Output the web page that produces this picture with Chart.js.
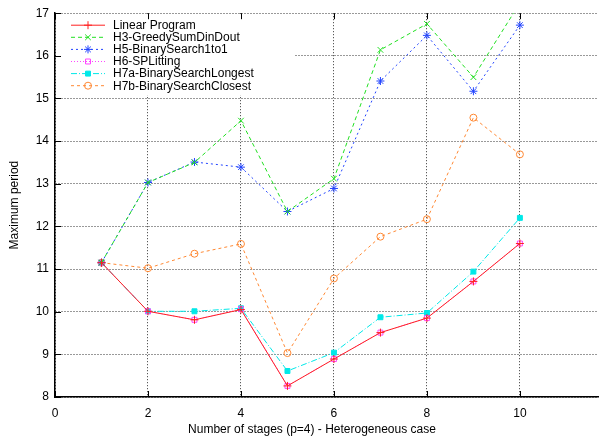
<!DOCTYPE html>
<html>
<head>
<meta charset="utf-8">
<script src="https://cdn.jsdelivr.net/npm/chart.js@4.4.1/dist/chart.umd.min.js"></script>
<style>
  body { margin: 0; background: #fff; }
  #wrap { width: 603px; height: 436px; }
</style>
</head>
<body>
<div id="wrap"><canvas id="chartPeriodo" width="603" height="436"></canvas></div>
<script>
const FONT = "'Liberation Sans', Arial, Helvetica, sans-serif";

// numero de etapas
const stages = [1, 2, 3, 4, 5, 6, 7, 8, 9, 10];
const xTicks = [0, 2, 4, 6, 8, 10];
const yTicks = [8, 9, 10, 11, 12, 13, 14, 15, 16, 17];

const linearProgram = [11.15, 10.01, 9.81, 10.05, 8.26, 8.89, 9.51, 9.85, 10.71, 11.60];
const h3Greedy      = [11.15, 13.03, 13.50, 14.48, 12.35, 13.12, 16.14, 16.75, 15.50, 17.24];
const h5Binary      = [11.15, 13.03, 13.51, 13.39, 12.35, 12.89, 15.41, 16.48, 15.17, 16.72];
const h6Splitting   = [11.15, 10.01, 9.81, 10.06, 8.26, 8.89, 9.51, 9.85, 10.71, 11.60];
const h7aLongest    = [11.15, 10.01, 10.01, 10.08, 8.61, 9.04, 9.87, 9.97, 10.94, 12.20];
const h7bClosest    = [11.15, 11.02, 11.36, 11.59, 9.03, 10.78, 11.76, 12.17, 14.55, 13.69];

const puntos = (vals) => stages.map((s, i) => ({ x: s, y: vals[i] }));

const serie = (label, vals, color, dash, style, radius, fill) => ({
    label : label,
    data : puntos(vals),
    borderColor : color,
    backgroundColor : color,
    borderWidth : 1,
    borderDash : dash,
    pointStyle : style,
    pointRadius : radius,
    pointHoverRadius : radius,
    pointBorderWidth : 1,
    pointBackgroundColor : fill ? color : 'rgba(0,0,0,0)',
    pointBorderColor : color,
    tension : 0
});

const datasets = [
    serie('Linear Program', linearProgram, '#ff2020', [], 'cross', 4, false),
    serie('H3-GreedySumDinDout', h3Greedy, '#22e022', [4, 3], 'crossRot', 4, false),
    serie('H5-BinarySearch1to1', h5Binary, '#2244ff', [2, 3], 'star', 4, false),
    serie('H6-SPLitting', h6Splitting, '#ff44ff', [1, 2], 'rect', 3.5, false),
    serie('H7a-BinarySearchLongest', h7aLongest, '#00e8e8', [6, 2, 1, 2], 'rect', 3.5, true),
    serie('H7b-BinarySearchClosest', h7bClosest, '#ff8833', [3, 3], 'circle', 3.5, false)
];

// leyenda dentro del area, titulos y marcas cortas de los ejes
const extras = {
    id : 'extras',
    beforeDatasetsDraw(chart) {
        const ctx = chart.ctx;
        const a = chart.chartArea;
        ctx.save();
        ctx.fillStyle = '#fff';
        ctx.fillRect(a.left + 1, a.top + 1, 238, 81);
        ctx.restore();
    },
    afterDatasetsDraw(chart) {
        const ctx = chart.ctx;
        const a = chart.chartArea;
        const xs = chart.scales.x;
        const ys = chart.scales.y;
        ctx.save();

        // marcas de los ejes
        ctx.strokeStyle = '#000';
        ctx.lineWidth = 1;
        ctx.setLineDash([]);
        ctx.beginPath();
        xTicks.forEach(v => {
            const px = Math.round(xs.getPixelForValue(v)) + 0.5;
            ctx.moveTo(px, a.bottom); ctx.lineTo(px, a.bottom - 6);
            ctx.moveTo(px, a.top); ctx.lineTo(px, a.top + 6);
        });
        yTicks.forEach(v => {
            const py = Math.round(ys.getPixelForValue(v)) + 0.5;
            ctx.moveTo(a.left, py); ctx.lineTo(a.left + 6, py);
        });
        ctx.stroke();

        // leyenda
        ctx.font = '12px ' + FONT;
        ctx.textBaseline = 'middle';
        ctx.textAlign = 'left';
        chart.data.datasets.forEach((d, i) => {
            const y = a.top + 12 + i * 12.1;
            const x0 = a.left + 16, x1 = a.left + 50;
            ctx.strokeStyle = d.borderColor;
            ctx.lineWidth = 1;
            ctx.setLineDash(d.borderDash);
            ctx.beginPath();
            ctx.moveTo(x0, y); ctx.lineTo(x1, y);
            ctx.stroke();
            ctx.setLineDash([]);
            ctx.fillStyle = d.pointBackgroundColor;
            ctx.strokeStyle = d.pointBorderColor;
            Chart.helpers.drawPoint(ctx, {
                pointStyle : d.pointStyle,
                radius : d.pointRadius,
                borderWidth : 1,
                rotation : 0
            }, (x0 + x1) / 2, y);
            ctx.fillStyle = '#000';
            ctx.fillText(d.label, a.left + 58, y + 0.5);
        });

        // titulos de los ejes
        ctx.fillStyle = '#000';
        ctx.textAlign = 'center';
        ctx.fillText('Number of stages (p=4) - Heterogeneous case', 312, 430);
        ctx.translate(15, (a.top + a.bottom) / 2);
        ctx.rotate(-Math.PI / 2);
        ctx.fillText('Maximum period', 0, 0);
        ctx.restore();
    }
};

const canvas = document.getElementById('chartPeriodo');
const context = canvas.getContext('2d');

const chartPeriodo = new Chart(context, {
    type : 'line',
    data : { datasets : datasets },
    plugins : [extras],
    options : {
        responsive : false,
        animation : false,
        layout : { padding : { top : 12, right : 0, left : 0, bottom : 0 } },
        plugins : {
            legend : { display : false },
            tooltip : { enabled : false }
        },
        scales : {
            x : {
                type : 'linear',
                min : 0,
                max : 11.68,
                afterBuildTicks : (s) => { s.ticks = xTicks.map(v => ({ value : v })); },
                afterFit : (s) => { s.height = 39; },
                grid : {
                    color : 'rgba(0,0,0,0.8)',
                    lineWidth : 1,
                    drawTicks : false
                },
                border : { color : '#000', width : 1.5, dash : [1, 2] },
                ticks : {
                    color : '#000',
                    padding : 9,
                    maxRotation : 0,
                    font : { family : FONT, size : 12 }
                }
            },
            y : {
                min : 8,
                max : 17,
                afterBuildTicks : (s) => { s.ticks = yTicks.map(v => ({ value : v })); },
                afterFit : (s) => { s.width = 55; },
                grid : {
                    color : 'rgba(0,0,0,0.8)',
                    lineWidth : 1,
                    drawTicks : false
                },
                border : { color : '#000', width : 1.5, dash : [1, 2] },
                ticks : {
                    color : '#000',
                    padding : 6,
                    font : { family : FONT, size : 12 }
                }
            }
        }
    }
});
</script>
</body>
</html>
